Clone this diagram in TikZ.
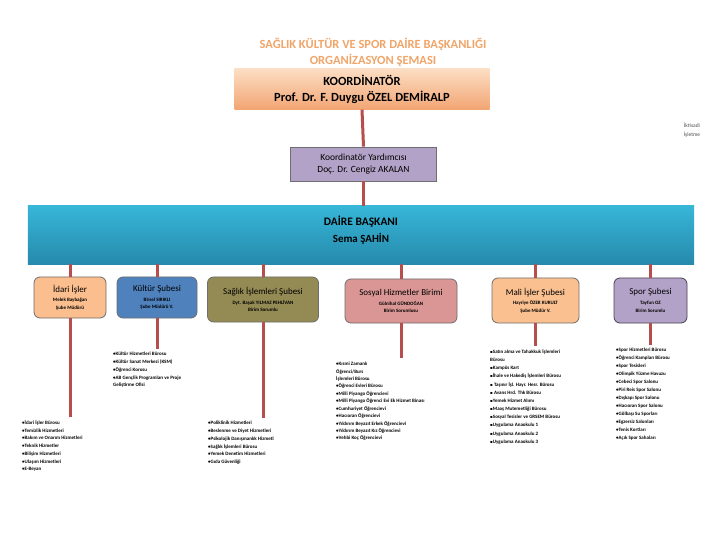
\documentclass[tikz,border=0pt]{standalone}
\usepackage{fontspec}
\setmainfont{Carlito}
\newfontfamily\dejavu{DejaVu Sans}
\definecolor{lnc}{RGB}{182,78,78}
\definecolor{bordc}{RGB}{110,110,110}
\definecolor{idaric}{RGB}{250,190,143}
\definecolor{kulturc}{RGB}{79,129,189}
\definecolor{saglikc}{RGB}{148,138,84}
\definecolor{sosyalc}{RGB}{217,150,148}
\definecolor{malic}{RGB}{250,192,144}
\definecolor{sporc}{RGB}{179,162,199}
\definecolor{titlec}{RGB}{240,165,105}
\definecolor{koordtop}{RGB}{252,222,196}
\definecolor{koordbot}{RGB}{242,165,115}
\definecolor{dairetop}{RGB}{55,182,216}
\definecolor{dairebot}{RGB}{38,138,172}
\newcommand\sqb{{\dejavu\fontsize{4}{5}\selectfont ▪}}
\newcommand\btl[1]{{\fontsize{9}{10}\mdseries\selectfont #1}\\[2.5bp]}
\begin{document}
\begin{tikzpicture}[x=1bp,y=-1bp,
  conn/.style={draw=lnc,line width=3bp},
  branch/.style={draw=bordc,line width=0.8bp,rounded corners=6bp,align=center,inner sep=1bp,text=black,
    font=\fontsize{5}{7.5}\selectfont\bfseries},
  blist/.style={anchor=north west,align=left,inner sep=0pt,font=\fontsize{5}{7.8}\selectfont\bfseries}
]
\useasboundingbox (0,0) rectangle (720,540);
\fill[white] (0,0) rectangle (720,540);

% title
\node[align=center,text=titlec,font=\fontsize{12.5}{16}\selectfont\bfseries] (title) at (373,52)
  {SAĞLIK KÜLTÜR VE SPOR DAİRE BAŞKANLIĞI\\ORGANİZASYON ŞEMASI};

% coordinator
\node[top color=koordtop,bottom color=koordbot,minimum width=255bp,minimum height=41bp,inner sep=0pt,
  align=center,font=\fontsize{12.5}{16}\selectfont\bfseries] (koord) at (362,89)
  {KOORDİNATÖR\\Prof. Dr. F. Duygu ÖZEL DEMİRALP};

\node[align=center,text=black!70,font=\fontsize{5.5}{9}\selectfont] (iktisadi) at (692,130)
  {İktisadi\\İşletme};

% assistant
\node[draw=bordc,fill=sporc,line width=0.8bp,minimum width=146bp,minimum height=34bp,inner sep=0pt,
  align=center,font=\fontsize{9.5}{12}\selectfont] (yard) at (363.5,164)
  {Koordinatör Yardımcısı\\Doç. Dr. Cengiz AKALAN};

% daire baskani
\node[top color=dairetop,bottom color=dairebot,minimum width=666bp,minimum height=58bp,inner sep=0pt] (daire) at (361,235) {};
\node[align=center,font=\fontsize{11.5}{17}\selectfont\bfseries] (dairetxt) at (361,230)
  {DAİRE BAŞKANI\\{\fontsize{11}{17}\selectfont Sema ŞAHİN}};

\draw[conn] (koord.south) -- (yard.north);
\draw[conn] (yard.south) -- (yard.south |- daire.north);

% branches
\node[branch,fill=idaric,minimum width=72bp,minimum height=41bp] (idari) at (70,297.5)
  {\btl{İdari İşler}Melek Baybağan\\Şube Müdürü};
\node[branch,fill=kulturc,minimum width=80bp,minimum height=41bp] (kultur) at (157,297.5)
  {\btl{Kültür Şubesi}Birsel SIRIKLI\\Şube Müdürü V.};
\node[branch,fill=saglikc,minimum width=111bp,minimum height=45bp] (saglik) at (263,299.5)
  {\btl{Sağlık İşlemleri Şubesi}Dyt. Başak YILMAZ PEHLİVAN\\Birim Sorumlu};
\node[branch,fill=sosyalc,minimum width=112bp,minimum height=44bp] (sosyal) at (401,301)
  {\btl{Sosyal Hizmetler Birimi}Gülnihal GÜNDOĞAN\\Birim Sorumlusu};
\node[branch,fill=malic,minimum width=87bp,minimum height=45bp] (mali) at (535.5,300.5)
  {\btl{Mali İşler Şubesi}Hayriye ÖZER KURULT\\Şube Müdür V.};
\node[branch,draw=black!60!sporc,fill=sporc,minimum width=73bp,minimum height=45bp] (spor) at (650.5,300.5)
  {\btl{Spor Şubesi}Tayfun OZ\\Birim Sorumlu};

\foreach \b in {idari,kultur,saglik,sosyal,mali,spor}
  \draw[conn] (\b.north |- daire.south) -- (\b.north);

% lists
\node[blist] (idlist) at (22,420) {•İdari İşler Bürosu\\•Temizlik Hizmetleri\\•Bakım ve Onarım Hizmetleri\\•Teknik Hizmetler\\•Bilişim Hizmetleri\\•Ulaşım Hizmetleri\\•E-Beyan};
\node[blist] (kulist) at (113,352) {•Kültür Hizmetleri Bürosu\\•Kültür Sanat Merkezi (KSM)\\•Öğrenci Korosu\\•AB Gençlik Programları ve Proje\\Geliştirme Ofisi};
\node[blist] (salist) at (208,421) {•Poliklinik Hizmetleri\\•Beslenme ve Diyet Hizmetleri\\•Psikolojik Danışmanlık Hizmeti\\•Sağlık İşlemleri Bürosu\\•Yemek Denetim Hizmetleri\\•Gıda Güvenliği};
\node[blist,font=\fontsize{5}{7.45}\selectfont\bfseries] (solist) at (336,362) {•Kısmi Zamanlı\\Öğrenci/Burs\\İşlemleri Bürosu\\•Öğrenci Evleri  Bürosu\\•Milli Piyango Öğrencievi\\•Milli Piyango Öğrenci Evi Ek Hizmet Binası\\•Cumhuriyet Öğrencievi\\•Hacıoran Öğrencievi\\•Yıldırım Beyazıt Erkek Öğrencievi\\•Yıldırım Beyazıt Kız Öğrencievi\\•Vehbi Koç Öğrencievi};
\node[blist,font=\fontsize{5}{8.2}\selectfont\bfseries] (malist) at (490,349) {\sqb Satın alma ve Tahakkuk İşlemleri\\Bürosu\\\sqb Kampüs Kart\\\sqb İhale ve Hakediş İşlemleri Bürosu\\\sqb\ Taşınır İşl. Hayr. Hesr. Bürosu\\\sqb\ Avans Hrd. Thk Bürosu\\\sqb Yemek Hizmet Alımı\\\sqb Maaş Mutemetliği Bürosu\\\sqb Sosyal Tesisler ve GRSEM Bürosu\\\sqb Uygulama Anaokulu 1\\\sqb Uygulama Anaokulu 2\\\sqb Uygulama Anaokulu 3};
\node[blist,font=\fontsize{5}{8}\selectfont\bfseries] (splist) at (616,348) {•Spor Hizmetleri Bürosu\\•Öğrenci Kampları Bürosu\\•Spor Tesisleri\\•Olimpik Yüzme Havuzu\\•Cebeci Spor Salonu\\•Piri Reis Spor Salonu\\•Dışkapı Spor Salonu\\•Hacıoran Spor Salonu\\•Gölbaşı Su Sporları\\•Egzersiz Salonları\\•Tenis Kortları\\•Açık Spor Sahaları};

\draw[conn] (idari.south) -- ++(0,99);
\draw[conn] (kultur.south) -- ++(0,31);
\draw[conn] (saglik.south) -- ++(0,96);
\draw[conn] (sosyal.south) -- ++(0,35);
\draw[conn] (mali.south) -- ++(0,23);
\draw[conn] (spor.south) -- ++(0,22);
\end{tikzpicture}
\end{document}
